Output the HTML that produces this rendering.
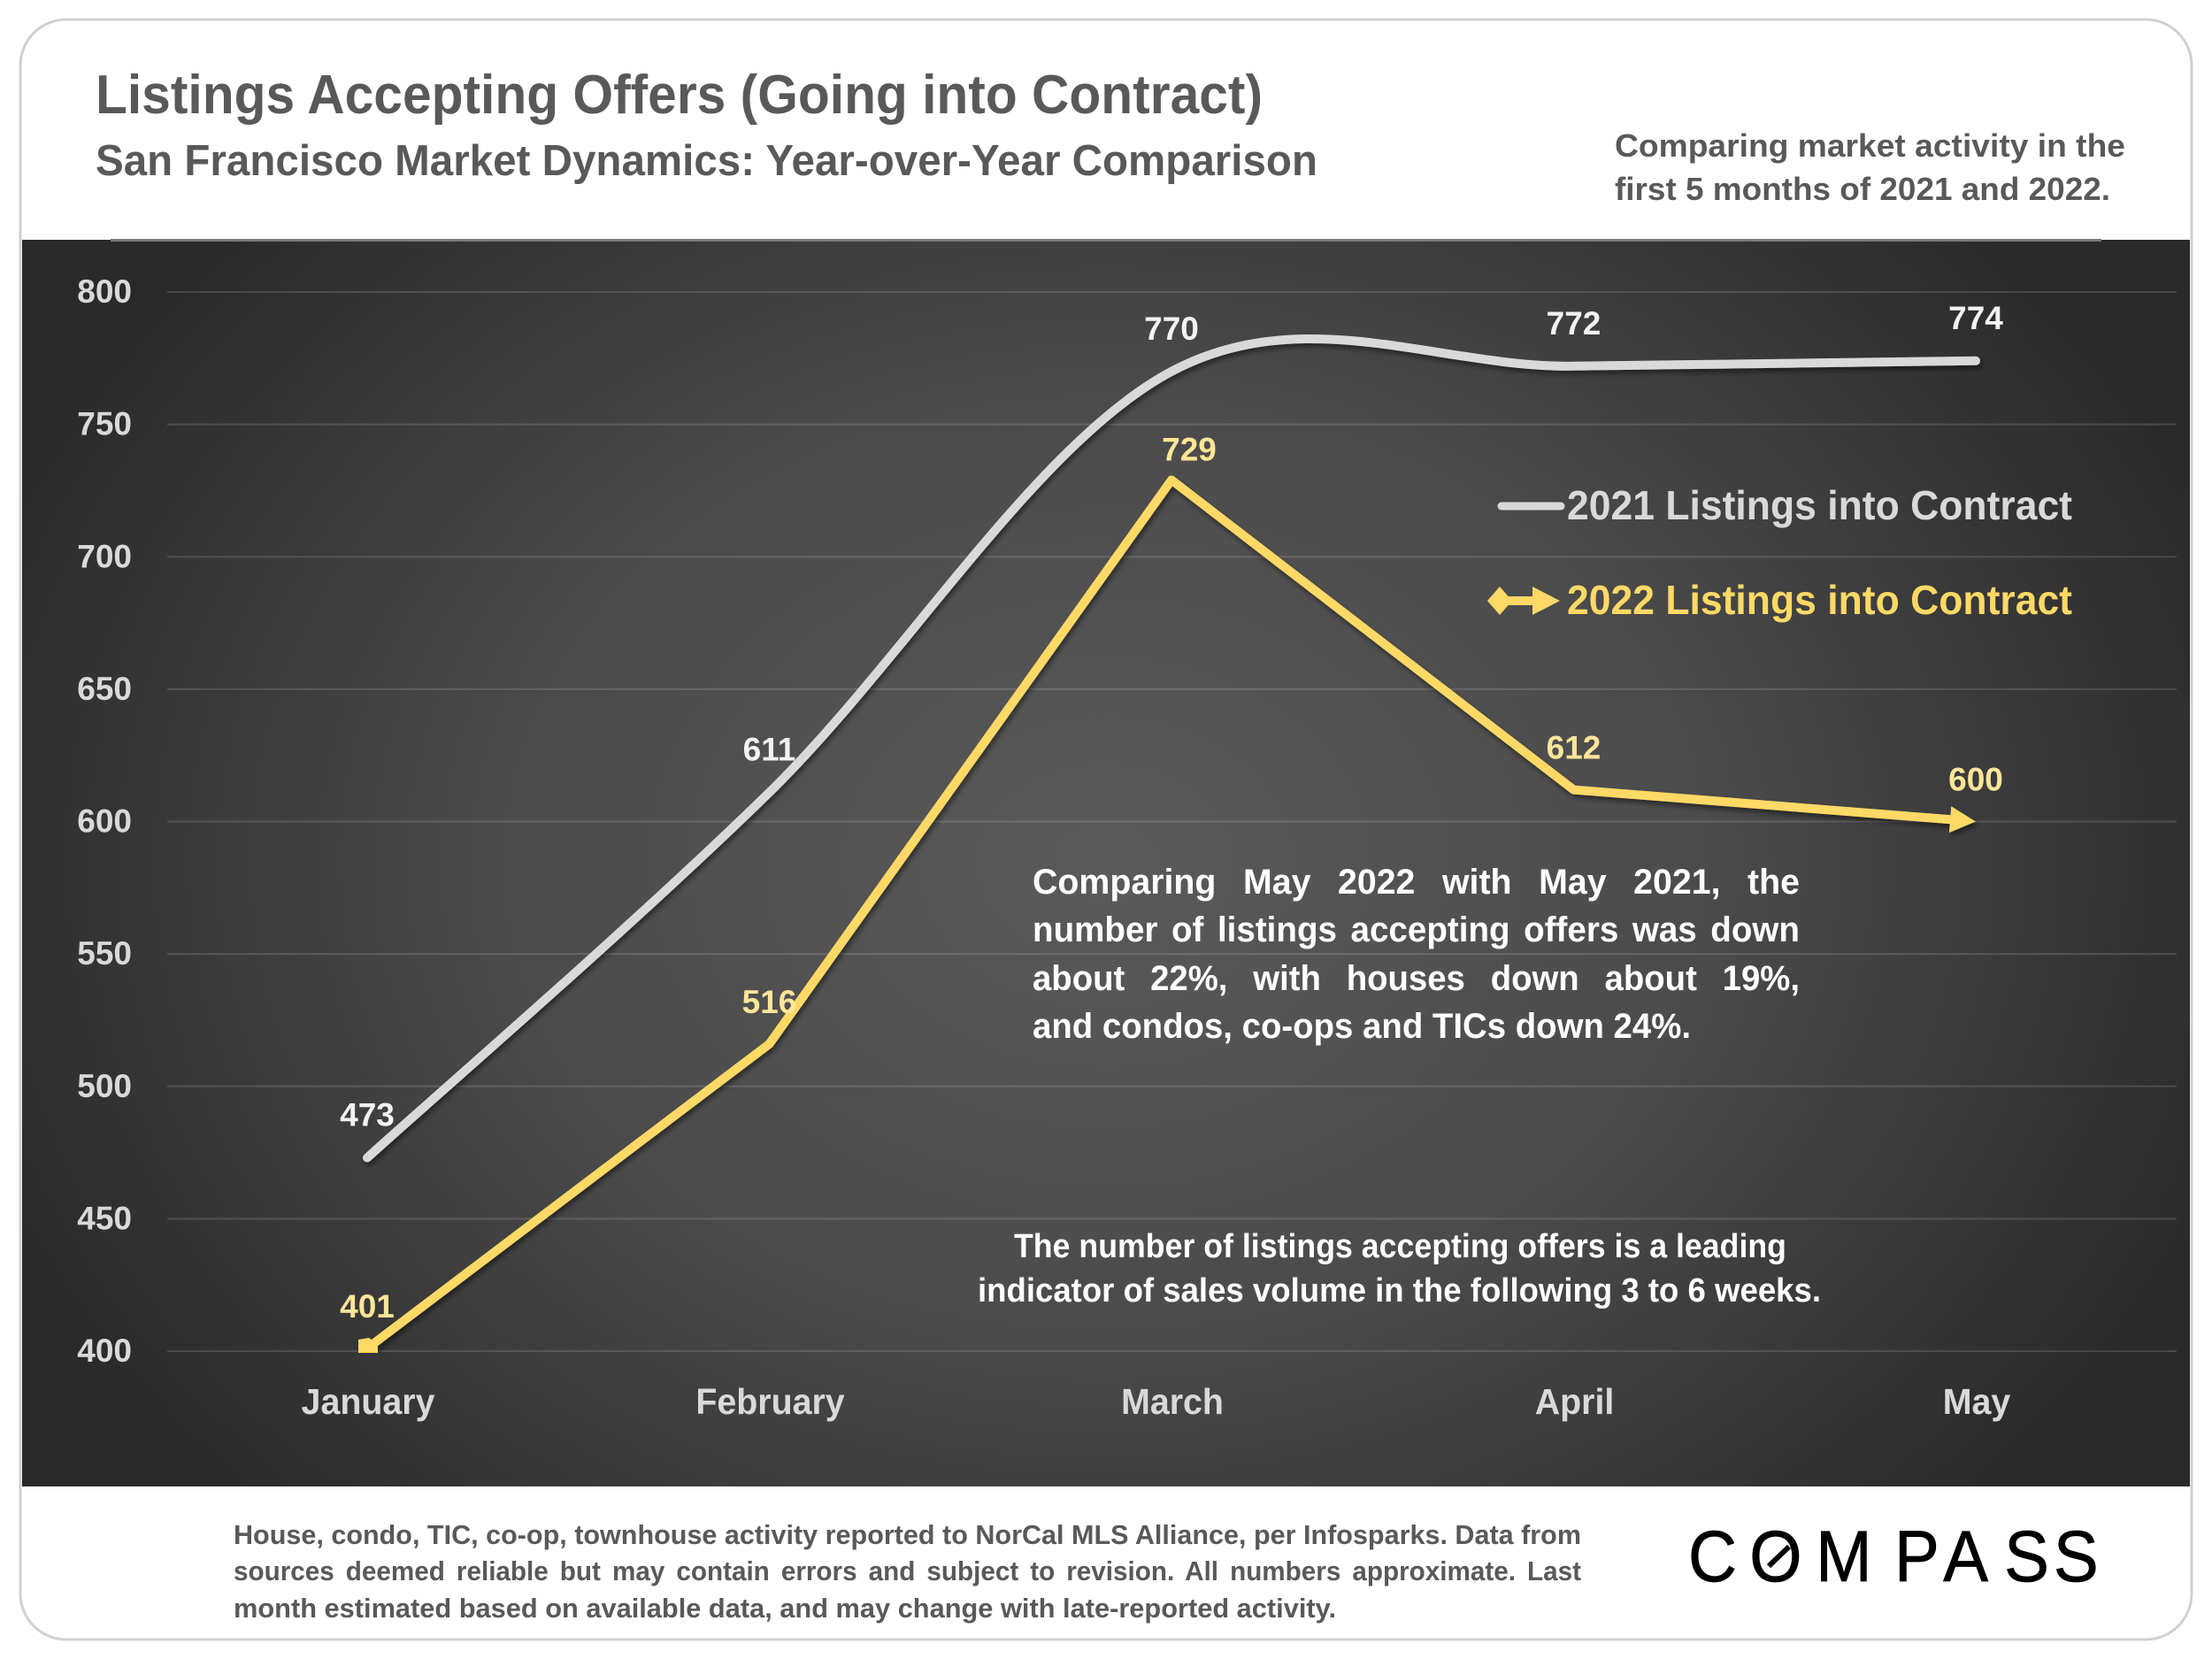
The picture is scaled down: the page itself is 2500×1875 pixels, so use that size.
<!DOCTYPE html>
<html lang="en">
<head>
<meta charset="utf-8">
<title>Listings Accepting Offers</title>
<style>
html,body{margin:0;padding:0;background:#fff;width:2500px;height:1875px;overflow:hidden}
svg{display:block}
text{font-family:"Liberation Sans",sans-serif;font-weight:700}
</style>
</head>
<body>
<svg xmlns="http://www.w3.org/2000/svg" width="2500" height="1875" viewBox="0 0 2500 1875">
<defs>
<radialGradient id="panelGrad" gradientUnits="userSpaceOnUse" cx="0" cy="0" r="1" gradientTransform="translate(1250 975) scale(1350 1050)">
<stop offset="0" stop-color="#5a5a5a"/>
<stop offset="0.5" stop-color="#4b4b4b"/>
<stop offset="1" stop-color="#2a2a2a"/>
</radialGradient>
<filter id="lineShadow" x="-10%" y="-10%" width="120%" height="120%">
<feDropShadow dx="2" dy="4" stdDeviation="3" flood-color="#000" flood-opacity="0.45"/>
</filter>
<clipPath id="plotClip"><rect x="25" y="271" width="2450" height="1258"/></clipPath>
</defs>

<rect x="23" y="22" width="2454" height="1831" rx="52" ry="52" fill="#fff" stroke="#d0d0d0" stroke-width="3"/>
<rect x="25" y="271" width="2450" height="1409" fill="url(#panelGrad)"/>
<rect x="125" y="270" width="2250" height="3" fill="#7a7a7a"/>

<text x="108" y="128" font-size="62" fill="#595959" textLength="1319" lengthAdjust="spacingAndGlyphs">Listings Accepting Offers (Going into Contract)</text>
<text x="108" y="198" font-size="49" fill="#595959" textLength="1381" lengthAdjust="spacingAndGlyphs">San Francisco Market Dynamics: Year-over-Year Comparison</text>
<text x="1825" y="177" font-size="36" fill="#595959" textLength="577" lengthAdjust="spacingAndGlyphs">Comparing market activity in the</text>
<text x="1825" y="226" font-size="36" fill="#595959" textLength="560" lengthAdjust="spacingAndGlyphs">first 5 months of 2021 and 2022.</text>

<g id="grid"></g>
<g id="yAxis"></g>
<g id="xAxis"></g>
<g id="series"></g>
<g id="labels"></g>

<g>
<line x1="1697" y1="572" x2="1764" y2="572" stroke="#d9d9d9" stroke-width="9" stroke-linecap="round"/>
<text x="1771" y="587" font-size="46" fill="#d9d9d9" textLength="571" lengthAdjust="spacingAndGlyphs">2021 Listings into Contract</text>
<g>
<line x1="1694" y1="679" x2="1745" y2="679" stroke="#ffd966" stroke-width="10"/>
<polygon points="1681,679 1695,663 1709,679 1695,695" fill="#ffd966"/>
<polygon points="1763,679 1732,663 1732,695" fill="#ffd966"/>
</g>
<text x="1771" y="694" font-size="46" fill="#ffd966" textLength="571" lengthAdjust="spacingAndGlyphs">2022 Listings into Contract</text>
</g>

<g fill="#ffffff" font-size="40">
<text x="1167" y="1010" textLength="867" lengthAdjust="spacingAndGlyphs" word-spacing="20">Comparing May 2022 with May 2021, the</text>
<text x="1167" y="1064" textLength="867" lengthAdjust="spacingAndGlyphs" word-spacing="5">number of listings accepting offers was down</text>
<text x="1167" y="1119" textLength="867" lengthAdjust="spacingAndGlyphs" word-spacing="19">about 22%, with houses down about 19%,</text>
<text x="1167" y="1173" textLength="744" lengthAdjust="spacingAndGlyphs">and condos, co-ops and TICs down 24%.</text>
</g>
<g fill="#ffffff" font-size="38">
<text x="1146" y="1421" textLength="873" lengthAdjust="spacingAndGlyphs">The number of listings accepting offers is a leading</text>
<text x="1105" y="1471" textLength="953" lengthAdjust="spacingAndGlyphs">indicator of sales volume in the following 3 to 6 weeks.</text>
</g>

<g fill="#595959" font-size="31">
<text x="264" y="1745" textLength="1523" lengthAdjust="spacingAndGlyphs">House, condo, TIC, co-op, townhouse activity reported to NorCal MLS Alliance, per Infosparks. Data from</text>
<text x="264" y="1786" textLength="1523" lengthAdjust="spacingAndGlyphs" word-spacing="5">sources deemed reliable but may contain errors and subject to revision. All numbers approximate. Last</text>
<text x="264" y="1828" textLength="1246" lengthAdjust="spacingAndGlyphs">month estimated based on available data, and may change with late-reported activity.</text>
</g>

<g>
<text y="0" x="0 74.5 155 250.5 310 384 444" transform="translate(1908 1787) scale(0.93 1)" font-size="82" fill="#000" stroke="#000" stroke-width="0.8" style="font-weight:400">COMPASS</text>
<line x1="1999" y1="1770" x2="2022" y2="1748" stroke="#000" stroke-width="6"/>
</g>

<script>
const categories = ['January', 'February', 'March', 'April', 'May'];
const series2021 = [473, 611, 770, 772, 774];
const series2022 = [401, 516, 729, 612, 600];
const yTicks = [400, 450, 500, 550, 600, 650, 700, 750, 800];

const NS = 'http://www.w3.org/2000/svg';
function xScale(i) { return 415 + i * (2233 - 415) / (categories.length - 1); }
function yScale(v) { return 1527 - (v - 400) * (1527 - 330) / (800 - 400); }
function make(tag, attrs, parent) {
  const el = document.createElementNS(NS, tag);
  for (const k in attrs) el.setAttribute(k, attrs[k]);
  parent.appendChild(el);
  return el;
}
const gridG = document.getElementById('grid');
const yG = document.getElementById('yAxis');
const xG = document.getElementById('xAxis');
const seriesG = document.getElementById('series');
const labelG = document.getElementById('labels');

yTicks.forEach(function (t) {
  const line = make('line', { x1: 189, x2: 2460, y1: yScale(t), y2: yScale(t), stroke: '#fff', 'stroke-opacity': 0.14, 'stroke-width': 2 }, gridG);
  
  
  const lab = make('text', { x: 149, y: yScale(t) + 12, 'text-anchor': 'end', 'font-size': 37, fill: '#d9d9d9' }, yG);
  lab.textContent = t;
  
  
});

categories.forEach(function (c, i) {
  const lab = make('text', { x: 0, y: 0, 'text-anchor': 'middle', 'font-size': 41, fill: '#d9d9d9', transform: 'translate(' + (xScale(i) + 1) + ' 1598) scale(0.96 1)' }, xG);
  lab.textContent = c;
  
  
});

function smoothPath(vals) {
  const p = vals.map(function (v, i) { return [xScale(i), yScale(v)]; });
  let d = 'M' + p[0][0] + ' ' + p[0][1];
  for (let i = 0; i < p.length - 1; i++) {
    const a = p[Math.max(i - 1, 0)], b = p[i], c = p[i + 1], e = p[Math.min(i + 2, p.length - 1)];
    const c1x = b[0] + (c[0] - a[0]) / 6, c1y = b[1] + (c[1] - a[1]) / 6;
    const c2x = c[0] - (e[0] - b[0]) / 6, c2y = c[1] - (e[1] - b[1]) / 6;
    d += 'C' + c1x + ' ' + c1y + ' ' + c2x + ' ' + c2y + ' ' + c[0] + ' ' + c[1];
  }
  return d;
}

const line2021 = make('path', { d: smoothPath(series2021), fill: 'none', stroke: '#d9d9d9', 'stroke-width': 10, 'stroke-linecap': 'round', filter: 'url(#lineShadow)' }, seriesG);



const g2022 = make('g', { filter: 'url(#lineShadow)', 'clip-path': 'url(#plotClip)' }, seriesG);


const n = series2022.length - 1;
const tipX = xScale(n), tipY = yScale(series2022[n]);
const prevX = xScale(n - 1), prevY = yScale(series2022[n - 1]);
const len = Math.hypot(tipX - prevX, tipY - prevY);
const ux = (tipX - prevX) / len, uy = (tipY - prevY) / len;
const baseX = tipX - ux * 29, baseY = tipY - uy * 29;
const pts2022 = series2022.map(function (v, i) {
  return i === n ? (baseX + ux * 4) + ',' + (baseY + uy * 4) : xScale(i) + ',' + yScale(v);
}).join(' ');
const line2022 = make('polyline', { points: pts2022, fill: 'none', stroke: '#ffd966', 'stroke-width': 10, 'stroke-linejoin': 'round' }, g2022);


const arrow = make('polygon', {
  points: tipX + ',' + tipY + ' ' + (baseX - uy * 15) + ',' + (baseY + ux * 15) + ' ' + (baseX + uy * 15) + ',' + (baseY - ux * 15),
  fill: '#ffd966'
}, g2022);


const sx = xScale(0), sy = yScale(series2022[0]);
const startMarker = make('polygon', {
  points: (sx - 10) + ',' + (sy - 10) + ' ' + (sx - 10) + ',' + (sy + 6) + ' ' + (sx + 12) + ',' + (sy + 6) + ' ' + (sx + 12) + ',' + (sy - 5) + ' ' + (sx + 2) + ',' + (sy - 12),
  fill: '#ffd966'
}, g2022);



series2021.forEach(function (v, i) {
  const lab = make('text', { x: xScale(i), y: yScale(v) - 36, 'text-anchor': 'middle', 'font-size': 37, fill: '#f2f2f2' }, labelG);
  lab.textContent = v;
  
  
});
const peak2022 = series2022.indexOf(Math.max.apply(null, series2022));
series2022.forEach(function (v, i) {
  const isPeak = i === peak2022;
  const lab = make('text', { x: xScale(i) + (isPeak ? 20 : 0), y: yScale(v) - (isPeak ? 22 : 35), 'text-anchor': 'middle', 'font-size': 37, fill: '#ffe699' }, labelG);
  lab.textContent = v;
  
  
});
</script>
</svg>
</body>
</html>
